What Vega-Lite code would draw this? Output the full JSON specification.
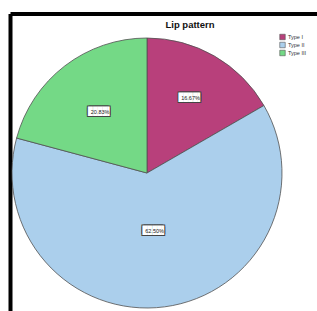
{
  "$schema": "https://vega.github.io/schema/vega-lite/v6.json",
  "width": 274,
  "height": 319,
  "autosize": {"type": "none"},
  "padding": {"left": 10, "top": 13.5, "right": 33, "bottom": 0},
  "background": "white",
  "config": {
    "view": {"stroke": null}
  },
  "title": {
    "text": "Lip pattern",
    "font": "Liberation Sans",
    "fontSize": 9.5,
    "fontWeight": "bold",
    "color": "#111111",
    "anchor": "middle",
    "baseline": "alphabetic",
    "offset": 0,
    "dx": 43,
    "dy": 24
  },
  "data": {
    "values": [
      {"type": "Type I", "pct": 0.1667},
      {"type": "Type II", "pct": 0.625},
      {"type": "Type III", "pct": 0.2083}
    ]
  },
  "layer": [
    {
      "mark": {"type": "point", "opacity": 0},
      "encoding": {
        "x": {"field": "pct", "type": "quantitative", "scale": {"range": [0, 307]}, "axis": {"orient": "top", "title": null, "labels": false, "ticks": false, "grid": false, "domainColor": "#000000", "domainWidth": 4}},
        "y": {"field": "pct", "type": "quantitative", "axis": {"orient": "left", "title": null, "labels": false, "ticks": false, "grid": false, "domainColor": "#000000", "domainWidth": 4}}
      }
    },
    {
      "mark": {"type": "arc", "outerRadius": 135, "stroke": "#505050", "strokeWidth": 0.8},
      "encoding": {
        "theta": {"field": "pct", "type": "quantitative", "stack": true},
        "order": {"field": "type", "sort": "ascending"},
        "color": {
          "field": "type",
          "type": "nominal",
          "scale": {"domain": ["Type I", "Type II", "Type III"], "range": ["#B8407B", "#ABCFEC", "#74D986"]},
          "legend": {
            "title": null,
            "orient": "none",
            "legendX": 269,
            "legendY": 20,
            "padding": 0,
            "symbolType": "square",
            "symbolSize": 30,
            "symbolStrokeColor": "#555555",
            "symbolStrokeWidth": 0.6,
            "labelFont": "Liberation Sans",
            "labelFontSize": 5.5,
            "labelColor": "#333333",
            "labelOffset": 2,
            "rowPadding": -1.5
          }
        }
      }
    },
    {
      "encoding": {
        "theta": {"field": "pct", "type": "quantitative", "stack": true},
        "order": {"field": "type", "sort": "ascending"},
        "radius": {"field": "pct", "type": "quantitative", "scale": {"type": "linear", "zero": false, "domain": [0.1667, 0.2083, 0.625], "range": [87, 77, 58]}}
      },
      "layer": [
        {"mark": {"type": "text", "font": "DejaVu Sans Mono", "fontSize": 8, "align": "center", "baseline": "middle", "dx": -1, "dy": -1, "color": "#444444"}, "encoding": {"text": {"value": "████▌"}}},
        {"mark": {"type": "text", "font": "DejaVu Sans Mono", "fontSize": 8, "align": "center", "baseline": "middle", "dx": 1, "dy": -1, "color": "#444444"}, "encoding": {"text": {"value": "████▌"}}},
        {"mark": {"type": "text", "font": "DejaVu Sans Mono", "fontSize": 8, "align": "center", "baseline": "middle", "dx": -1, "dy": 1, "color": "#444444"}, "encoding": {"text": {"value": "████▌"}}},
        {"mark": {"type": "text", "font": "DejaVu Sans Mono", "fontSize": 8, "align": "center", "baseline": "middle", "dx": 1, "dy": 1, "color": "#444444"}, "encoding": {"text": {"value": "████▌"}}},
        {"mark": {"type": "text", "font": "DejaVu Sans Mono", "fontSize": 8, "align": "center", "baseline": "middle", "color": "#ffffff"}, "encoding": {"text": {"value": "████▌"}}},
        {"mark": {"type": "text", "font": "Liberation Sans", "fontSize": 5.5, "align": "center", "baseline": "middle", "color": "#222222"}, "encoding": {"text": {"field": "pct", "type": "quantitative", "format": ".2%"}}}
      ]
    }
  ]
}
